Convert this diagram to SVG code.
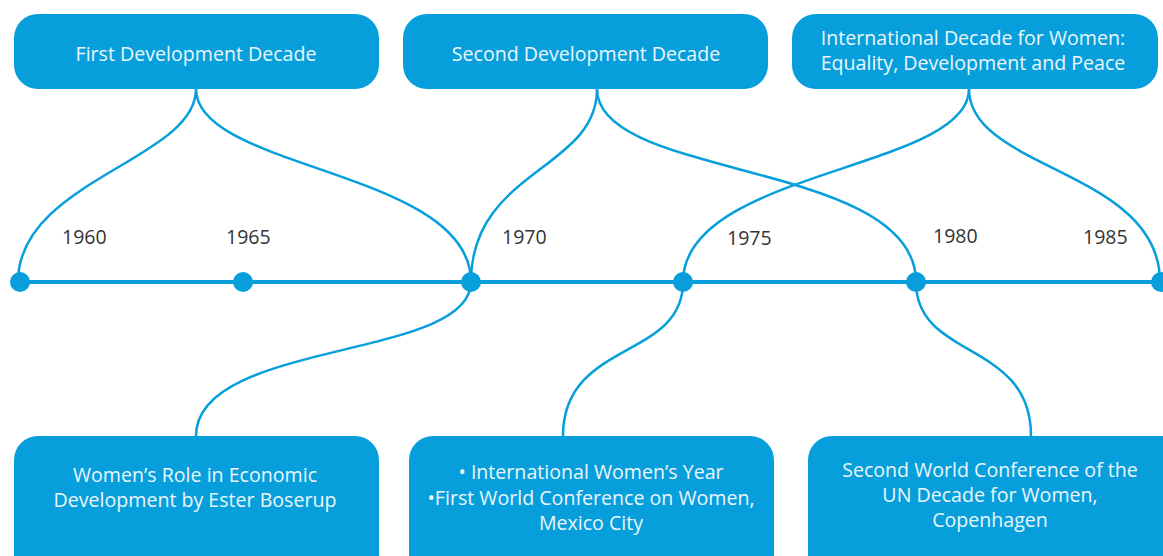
<svg xmlns="http://www.w3.org/2000/svg" width="1163" height="556" viewBox="0 0 1163 556">
<style>
.box{fill:#079fdb}
.bt{fill:#eaf6fc;font-family:"Open Sans","Liberation Sans",sans-serif;font-size:19.6px;text-anchor:middle}
.yr{fill:#333;font-family:"Open Sans","Liberation Sans",sans-serif;font-size:19.5px}
.con{fill:none;stroke:#079fdb;stroke-width:2.5}
.dot{fill:#079fdb}
</style>
<rect width="1163" height="556" fill="#fff"/>
<g id="timeline">
<line x1="20" y1="282" x2="1163" y2="282" stroke="#079fdb" stroke-width="4"/>
</g>
<g id="connectors">
<path class="con" d="M196,89 C196,160 18,180 18,282"/>
<path class="con" d="M196,89 C196,170 471,170 471,282"/>
<path class="con" d="M597,89 C597,170 471,170 471,282"/>
<path class="con" d="M597,89 C597,180 916,160 916,282"/>
<path class="con" d="M969,89 C969,170 683,170 683,282"/>
<path class="con" d="M969,89 C969,170 1160,170 1160,282"/>
<path class="con" d="M471,282 C471,360 196,340 196,436"/>
<path class="con" d="M683,282 C683,360 563,340 563,436"/>
<path class="con" d="M916,282 C916,360 1031,340 1031,436"/>
</g>
<g id="dots">
<circle class="dot" cx="20" cy="282" r="10"/>
<circle class="dot" cx="243" cy="282" r="10"/>
<circle class="dot" cx="471" cy="282" r="10"/>
<circle class="dot" cx="683" cy="282" r="10"/>
<circle class="dot" cx="916" cy="282" r="10"/>
<circle class="dot" cx="1161" cy="282" r="10"/>
</g>
<g id="years">
<text class="yr" x="62" y="244">1960</text>
<text class="yr" x="226" y="244">1965</text>
<text class="yr" x="502" y="244">1970</text>
<text class="yr" x="727" y="245">1975</text>
<text class="yr" x="933" y="243">1980</text>
<text class="yr" x="1083" y="244">1985</text>
</g>
<g id="node-first-decade">
<rect class="box" x="14" y="14" width="365" height="75" rx="24"/>
<text class="bt" x="196" y="61">First Development Decade</text>
</g>
<g id="node-second-decade">
<rect class="box" x="403" y="14" width="365" height="75" rx="24"/>
<text class="bt" x="586" y="61">Second Development Decade</text>
</g>
<g id="node-women-decade">
<rect class="box" x="792" y="14" width="366" height="75" rx="24"/>
<text class="bt" x="973" y="45">International Decade for Women:</text>
<text class="bt" x="973" y="70">Equality, Development and Peace</text>
</g>
<g id="node-boserup">
<rect class="box" x="14" y="436" width="365" height="150" rx="24"/>
<text class="bt" x="195" y="482">Women’s Role in Economic</text>
<text class="bt" x="195" y="507">Development by Ester Boserup</text>
</g>
<g id="node-mexico">
<rect class="box" x="409" y="436" width="365" height="150" rx="24"/>
<text class="bt" x="591" y="479">• International Women’s Year</text>
<text class="bt" x="591" y="504.5">•First World Conference on Women,</text>
<text class="bt" x="591" y="530">Mexico City</text>
</g>
<g id="node-copenhagen">
<rect class="box" x="808" y="436" width="380" height="150" rx="24"/>
<text class="bt" x="990" y="477">Second World Conference of the</text>
<text class="bt" x="990" y="502">UN Decade for Women,</text>
<text class="bt" x="990" y="527">Copenhagen</text>
</g>
</svg>
